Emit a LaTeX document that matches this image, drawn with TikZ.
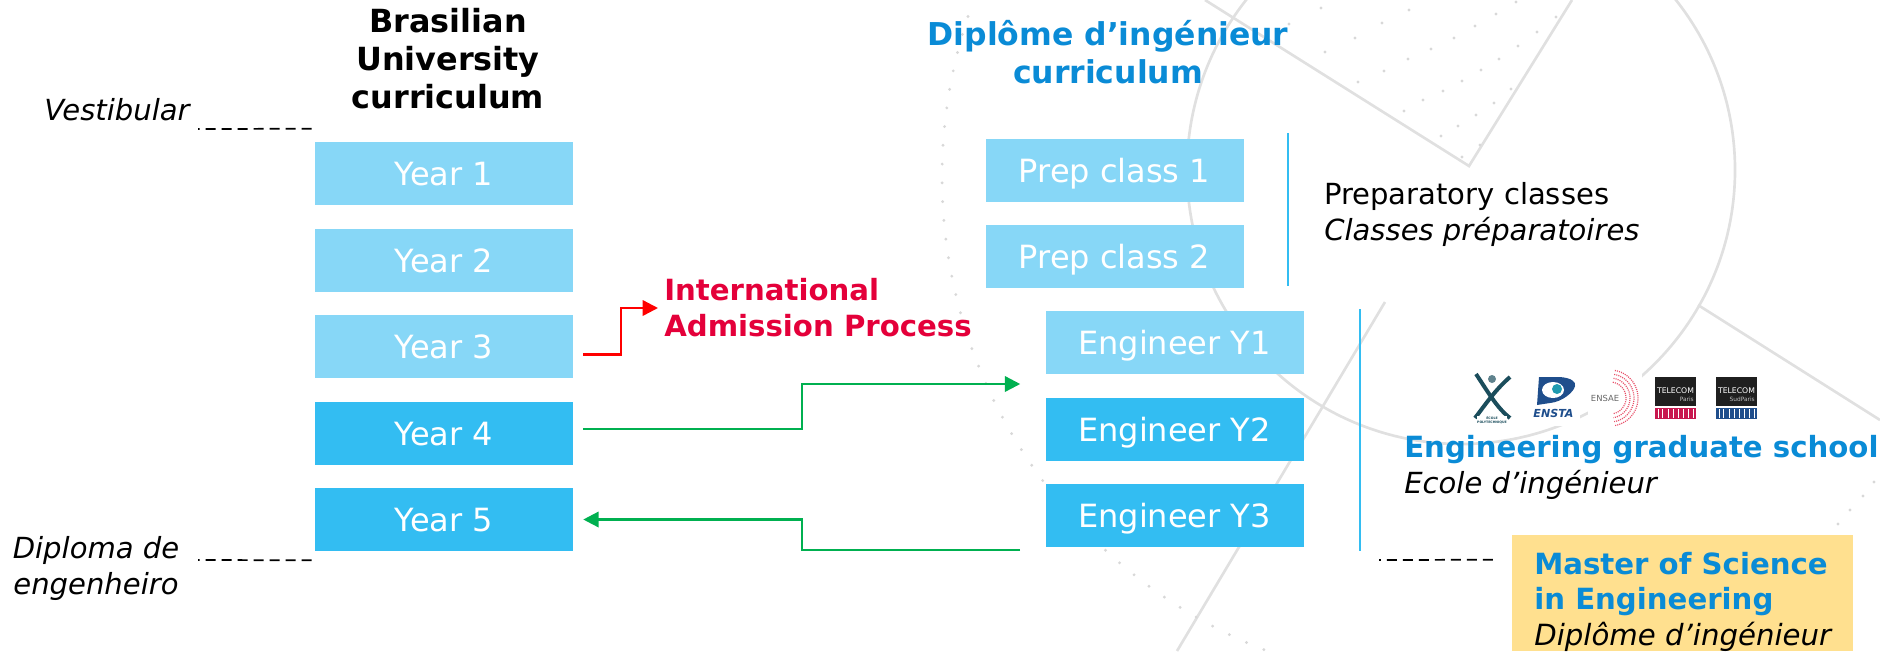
\documentclass[tikz,border=0pt]{standalone}
\usepackage{fontspec}
\setmainfont{DejaVu Sans}
\usetikzlibrary{arrows.meta,calc}
\definecolor{lightbox}{HTML}{87D7F7}
\definecolor{darkbox}{HTML}{33BDF2}
\definecolor{titleblue}{HTML}{0A8BD6}
\definecolor{admitred}{HTML}{E4003A}
\definecolor{arrowgreen}{HTML}{00B050}
\definecolor{bggrey}{HTML}{E0E0E0}
\definecolor{dotgrey}{HTML}{D8D8D8}
\definecolor{gold}{HTML}{FFE08F}
\definecolor{xteal}{HTML}{1B4D5C}
\definecolor{enstablue}{HTML}{1F4E8C}
\definecolor{enstateal}{HTML}{1E9AB0}
\definecolor{ensaered}{HTML}{E8506A}
\definecolor{tparis}{HTML}{C8174F}
\tikzset{
  bgline/.style={draw=bggrey,line width=2pt},
  bgdot/.style={fill=dotgrey,draw=none},
  yearbox/.style={inner sep=0pt,minimum width=193.5pt,minimum height=47.25pt,text=white,
    text height=24pt,text depth=6pt,font=\fontsize{24}{28}\selectfont},
  light/.style={yearbox,fill=lightbox},
  dark/.style={yearbox,fill=darkbox},
  bigtitle/.style={inner sep=0pt,align=center,anchor=base,font=\fontsize{23.9}{28.5}\selectfont\bfseries},
  side/.style={inner sep=0pt,align=left,anchor=base west,font=\fontsize{21.8}{27}\selectfont},
  sidetitle/.style={inner sep=0pt,align=left,anchor=base west,text=titleblue,font=\fontsize{21.9}{26.3}\selectfont\bfseries},
  note/.style={inner sep=0pt,font=\fontsize{21.8}{26.3}\selectfont\itshape},
  flow/.style={draw=arrowgreen,line width=1.8pt,-{Triangle[length=11.5pt,width=11.5pt]}},
  flowred/.style={draw=red,line width=1.8pt,-{Triangle[length=11.5pt,width=11.5pt]}},
  bracket/.style={draw=darkbox,line width=1.5pt},
  level/.style={draw=black,line width=1.3pt,dash pattern=on 7.5pt off 4.5pt},
}
\begin{document}
\begin{tikzpicture}[x=0.75pt,y=-0.75pt]
\useasboundingbox (0,0) rectangle (1880,651);
% background motif
\draw[bgline] (1461,170) circle[radius=274];
\draw[bgline,line join=miter] (1205,0) -- (1469,166) -- (1572,0);
\draw[bgline] (1385,302) -- (1177,651);
\draw[bgline] (1698,305) -- (1880,420);
\foreach \a in {111.5,113.62,...,199.6}
  \fill[bgdot] ({1450+508*cos(\a)},{177+508*sin(\a)}) circle[radius=1.6];
\foreach \p in {(1321,8),(1409,10),(1496,14),(1382,23),(1475,26),(1289,24),(1355,38),(1454,38),
  (1325,52),(1431,49),(1408,59),(1499,59),(1384,71),(1481,70),(1358,82),(1462,81),(1443,91),
  (1423,100),(1494,103),(1404,111),(1476,115),(1458,126),(1441,136),(1462,157),(1480,145),
  (1516,2),(1537,32),(1556,17),(1518,46),(1511,89),
  (1874,482),(1863,496),(1850,510),(1838,524)}
  \fill[bgdot] \p circle[radius=1.6];
% white grounds of the logos
\fill[white] (1520,365) rectangle (1580,426);
\fill[white] (1588,365) rectangle (1642,425);
% left column
\node[light] (y1) at (444,173.5) {Year 1};
\node[light] (y2) at (444,260.5) {Year 2};
\node[light] (y3) at (444,346.5) {Year 3};
\node[dark]  (y4) at (444,433.5) {Year 4};
\node[dark]  (y5) at (444,519.5) {Year 5};
% middle column
\node[light] (p1) at (1114.5,170.5) {Prep class 1};
\node[light] (p2) at (1114.5,256.5) {Prep class 2};
\node[light] (e1) at (1174.5,342.5) {Engineer Y1};
\node[dark]  (e2) at (1174.5,429.5) {Engineer Y2};
\node[dark]  (e3) at (1174.5,515.5) {Engineer Y3};
% titles
\node[bigtitle] (t1) at (448,108) {Brasilian\\University\\curriculum};
\node[bigtitle,text=titleblue,font=\fontsize{23.6}{28.5}\selectfont\bfseries] (t2) at (1108,83) {Diplôme d’ingénieur\\curriculum};
\node[note,anchor=base west] (vest) at (44,120) {Vestibular};
\node[note,align=center,anchor=base] (dipl) at (96,594) {Diploma de\\engenheiro};
\node[inner sep=0pt,align=left,anchor=base west,text=admitred,font=\fontsize{21.9}{27}\selectfont\bfseries]
  (adm) at (664,336) {International\\Admission Process};
\node[side] (prep) at (1324,240) {Preparatory classes\\\textit{Classes préparatoires}};
\node[sidetitle] (egs) at (1404,457) {Engineering graduate school};
\node[note,anchor=base west] (eco) at (1404,493) {Ecole d’ingénieur};
\node[fill=gold,inner sep=0pt,minimum width=255.75pt,minimum height=87pt] (msc) at (1682.5,593) {};
\node[sidetitle] (mt) at (1534,645) {Master of Science\\in Engineering\\\textcolor{black}{\mdseries\itshape Diplôme d’ingénieur}};
% brackets
\coordinate (b1a) at (1288,133); \coordinate (b1b) at (1288,286);
\coordinate (b2a) at (1360,309); \coordinate (b2b) at (1360,551);
\draw[bracket] (b1a) -- (b1b);
\draw[bracket] (b2a) -- (b2b);
% dashed levels
\coordinate (la) at (198,129); \coordinate (lb) at (198,560);
\coordinate (lc) at (1379,560);
\draw[level] ([shift={(-3,-13)}]y1.north west) -- (la);
\draw[level] ([shift={(-3,9)}]y5.south west) -- (lb);
\draw[level] ([shift={(-19,25)}]msc.north west) -- (lc);
% connectors
\draw[flowred] ([shift={(10,8)}]y3.east) -- ++(38,0) |- ([xshift=-4.5pt]adm.west |- 0,308);
\draw[flow] ([shift={(10,-4.5)}]y4.east) -- (802,429) |- ([xshift=-18.75pt]e1.west |- 0,384);
\draw[flow] ([shift={(-25,34.5)}]e3.west) -- (802,550) |- ([xshift=7.5pt]y5.east);
% logo: Polytechnique
\draw[xteal,line width=3pt] (1476,374) .. controls (1488,392) and (1497,408) .. (1510,418);
\draw[xteal,line width=3pt] (1510,377) .. controls (1495,390) and (1485,405) .. (1475,418);
\fill[xteal!70] (1492,379) circle[radius=4];
\node[inner sep=0pt,fill=white,text=xteal,font=\fontsize{2.4}{2.8}\selectfont\bfseries,align=center] (xl) at (1492,420) {ÉCOLE\\POLYTECHNIQUE};
% logo: ENSTA
\fill[enstablue] (1539,377) -- (1560,377) .. controls (1572,378) and (1576,382) .. (1575,386)
  .. controls (1574,392) and (1562,402) .. (1550,403) -- (1537,405) -- cycle;
\fill[white] (1553,390) ellipse[x radius=11,y radius=8];
\fill[enstateal] (1557,389) circle[radius=5];
\node[inner sep=0pt,text=enstablue,font=\fontsize{8.3}{10}\selectfont\bfseries\itshape] (ensta) at (1553.5,413.5) {ENSTA};
% logo: ENSAE
\node[inner sep=0pt,text=black!60,font=\fontsize{6.3}{8}\selectfont] (ensae) at (1605,398) {ENSAE};
\foreach \r in {16,20,24,28}
  \draw[ensaered,line width=.9pt,dash pattern=on .8pt off .8pt] plot[domain=-80:80,samples=25] ({1610+\r*cos(\x)},{398+\r*sin(\x)});
% logos: Telecom
\fill[black!88] (1655,377) rectangle (1696,406);
\fill[tparis] (1655,408) rectangle (1696,419);
\node[inner sep=0pt,text=white,font=\fontsize{5.8}{7}\selectfont] (tp1) at (1675.5,391) {TELECOM};
\node[inner sep=0pt,anchor=east,text=black!25,font=\fontsize{4.4}{5}\selectfont] (tp2) at (1694,399) {Paris};
\fill[black!88] (1716,377) rectangle (1757,406);
\fill[enstablue] (1716,408) rectangle (1757,419);
\node[inner sep=0pt,text=white,font=\fontsize{5.8}{7}\selectfont] (ts1) at (1736.5,391) {TELECOM};
\node[inner sep=0pt,anchor=east,text=black!25,font=\fontsize{4.4}{5}\selectfont] (ts2) at (1755,399) {SudParis};
\foreach \xo in {1655,1716}
  \foreach \d in {3,7,13,18,23,28,33,38}
    \fill[white] ({\xo+\d},409) rectangle ({\xo+\d+1.2},418);
\end{tikzpicture}
\end{document}
